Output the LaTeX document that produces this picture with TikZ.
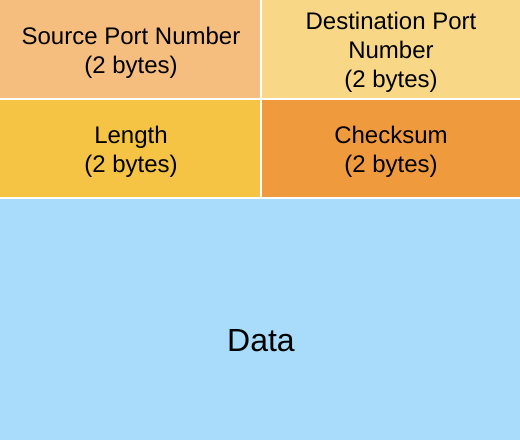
\documentclass[tikz,border=0pt]{standalone}
\usepackage{fontspec}
\setmainfont{Liberation Sans}
\definecolor{srcC}{RGB}{245,190,126}
\definecolor{dstC}{RGB}{248,216,134}
\definecolor{lenC}{RGB}{245,196,69}
\definecolor{chkC}{RGB}{240,154,62}
\definecolor{dataC}{RGB}{169,220,250}
\begin{document}
\begin{tikzpicture}[x=1pt,y=-1pt,
  lbl/.style={align=center,inner sep=0pt,font=\fontsize{24}{29}\selectfont},
]
\useasboundingbox (0,0) rectangle (520,440);
\fill[white] (0,0) rectangle (520,440);
\fill[srcC] (0,0) rectangle (260,98);
\fill[dstC] (262,0) rectangle (520,98);
\fill[lenC] (0,100) rectangle (260,197);
\fill[chkC] (262,100) rectangle (520,197);
\fill[dataC] (0,199) rectangle (520,440);
\node[lbl] (src) at (131,53) {Source Port Number\\(2 bytes)};
\node[lbl] (dst) at (391,52) {Destination Port\\Number\\(2 bytes)};
\node[lbl] (len) at (131,152) {Length\\(2 bytes)};
\node[lbl] (chk) at (391,152) {Checksum\\(2 bytes)};
\node[align=center,font=\fontsize{32}{38}\selectfont] (data) at (261,341) {Data};
\end{tikzpicture}
\end{document}
